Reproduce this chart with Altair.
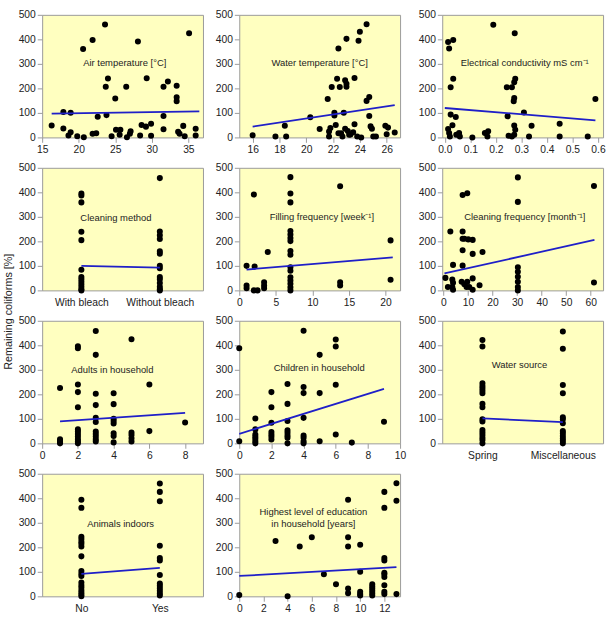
import altair as alt
import pandas as pd

FONT = "Liberation Sans"

# ---------------- data ----------------
air_x = [16.3, 17.9, 18.9, 17.9, 18.9, 18.6, 19.8, 20.7, 20.6, 21.9, 21.9, 22.4, 22.6, 23.6, 24.0, 23.7,
         23.8, 24.5, 25.0, 25.1, 25.7, 25.6, 26.5, 26.6, 27.0, 27.1, 28.1, 28.4, 28.6, 29.2, 29.3, 29.9,
         29.9, 31.6, 31.6, 31.6, 32.2, 33.4, 33.4, 33.4, 33.6, 33.8, 34.3, 34.5, 35.1, 36.0, 36.0]
air_y = [49, 104, 101, 36, 21, 8, 5, 1, 361, 397, 15, 17, 84, 461, 240, 207,
         91, 5, 159, 31, 31, 11, 207, 1, 15, 25, 391, 8, 51, 44, 241, 56,
         7, 207, 87, 33, 228, 211, 164, 148, 23, 15, 47, 5, 425, 35, 8]
air_line_x = [16.3, 36.5]
air_line_y = [97, 106]

wt_x = [16.0, 17.7, 18.4, 18.5, 20.3, 21.0, 21.6, 21.9, 21.7, 21.8, 21.7, 22.1, 22.1, 22.2, 22.3, 22.4,
        22.5, 22.4, 22.6, 22.7, 22.8, 22.9, 23.0, 23.0, 23.0, 22.9, 23.1, 23.2, 23.3, 23.5, 23.6, 23.6,
        23.8, 23.9, 24.0, 24.1, 24.5, 24.5, 24.7, 24.7, 24.8, 24.9, 25.0, 25.2, 25.9, 26.0, 26.1, 26.6]
wt_y = [9, 4, 48, 4, 82, 34, 157, 206, 24, 38, 4, 101, 89, 51, 239, 363,
        206, 17, 17, 4, 101, 233, 219, 207, 402, 35, 26, 11, 12, 21, 242, 54,
        4, 394, 431, 0, 462, 149, 165, 87, 45, 35, 4, 4, 48, 13, 40, 20]
wt_line_x = [16.0, 26.6]
wt_line_y = [44, 132]

ec_x = [0.013, 0.017, 0.033, 0.033, 0.023, 0.023, 0.03, 0.013, 0.017, 0.02, 0.043, 0.045, 0.056,
        0.059, 0.108, 0.157, 0.17, 0.167, 0.19, 0.243, 0.246, 0.25, 0.263, 0.272, 0.276, 0.272,
        0.270, 0.274, 0.272, 0.276, 0.272, 0.263, 0.31, 0.34, 0.33, 0.45, 0.45, 0.56, 0.59]
ec_y = [389, 363, 397, 239, 205, 93, 50, 34, 18, 4, 83, 11, 18,
        4, 0, 18, 25, 4, 460, 205, 86, 7, 205, 225, 239, 161,
        148, 425, 49, 31, 11, 4, 102, 48, 4, 56, 4, 4, 157]
ec_line_x = [0.0, 0.59]
ec_line_y = [120, 70]

method_cats = ["With bleach", "Without bleach"]
bleach_y = [395, 387, 359, 239, 205, 84, 55, 45, 35, 25, 15, 5, 0]
nobleach_y = [458, 240, 225, 210, 160, 150, 100, 90, 55, 45, 30, 15, 5, 0]
method_line_y = [100, 93]

fill_x = [1, 2.1, 1, 1, 2, 2, 2.5, 3.4, 3.4, 3.4, 3.9,
          7, 7, 7, 7, 7, 7, 7, 7, 7, 7, 7, 7, 7, 7, 7, 7,
          13.8, 13.8, 13.8, 20.7, 20.7]
fill_y = [100, 97, 20, 9, 391, 0, 0, 33, 20, 9, 157,
          462, 395, 359, 242, 228, 214, 201, 161, 145, 94, 80, 54, 40, 27, 13, 0,
          425, 33, 20, 204, 43]
fill_line_x = [1, 21]
fill_line_y = [85, 135]

cf_x = [0.8, 1.8, 2.8, 3.9, 3.6, 3.9, 3.6, 3.9, 7.8, 9.7, 7.8, 7.8, 7.8, 7.8, 8.5, 10.1, 11.9, 11.9,
        7.4, 8.5, 9.7, 9.4, 10.5, 11.9, 11.9, 14.7, 15.9,
        30.3, 30.3, 30.3, 30.3, 30.3, 30.3, 30.3, 30.3, 61.3, 61.3]
cf_y = [51, 14, 240, 104, 44, 31, 14, 3, 389, 396, 240, 211, 164, 101, 211, 208, 206, 149,
        35, 25, 35, 14, 14, 49, 3, 21, 157,
        461, 361, 94, 76, 56, 35, 14, 0, 426, 32]
cf_line_x = [0.4, 61.5]
cf_line_y = [69, 206]

ad_x = [1, 1, 1, 1, 1,
        2, 2, 2, 2, 2, 2, 2, 2, 2, 2, 2, 2,
        3, 3, 3, 3, 3, 3, 3, 3, 3, 3, 3,
        4, 4, 4, 4, 4, 4, 4, 4,
        5, 5, 5, 5, 5,
        6, 6, 8]
ad_y = [226, 17, 10, 5, 0,
        396, 388, 240, 209, 147, 57, 48, 38, 28, 17, 8, 0,
        458, 361, 202, 156, 104, 87, 48, 38, 28, 17, 8,
        204, 160, 100, 91, 81, 41, 30, 4,
        425, 44, 34, 21, 8,
        240, 50, 85]
ad_line_x = [1, 8]
ad_line_y = [90, 124]

ch_x = [0, 0,
        1, 1, 1, 1, 1, 1, 1,
        2, 2, 2, 2, 2, 2, 2,
        3, 3, 3, 3, 3, 3, 3, 3,
        4, 4, 4, 4, 4, 4, 4, 4,
        5, 5, 5,
        6, 6, 6, 6,
        7, 9]
ch_y = [388, 9,
        101, 57, 36, 27, 19, 9, 0,
        209, 147, 84, 46, 36, 27, 16,
        242, 161, 91, 53, 43, 32, 23, 0,
        459, 230, 205, 104, 32, 23, 9, 0,
        361, 205, 9,
        424, 395, 239, 36,
        3, 88]
ch_line_x = [0, 9]
ch_line_y = [39, 222]

source_cats = ["Spring", "Miscellaneous"]
spring_y = [422, 395, 245, 234, 225, 215, 204, 161, 147, 98, 89, 54, 44, 34, 23, 14, 0]
misc_y = [456, 386, 238, 204, 106, 98, 82, 50, 41, 30, 20, 11, 0]
source_line_y = [102, 87]

animal_cats = ["No", "Yes"]
no_y = [394, 361, 243, 234, 223, 214, 203, 163, 103, 92, 83, 56, 45, 36, 25, 16, 7, 0]
yes_y = [460, 426, 388, 206, 156, 146, 87, 52, 43, 33, 23, 12, 3]
animal_line_y = [92, 116]

ed_x = [0, 3, 4, 5, 6, 7, 8,
        9, 9, 9, 9, 9,
        10, 10, 10, 10, 10,
        11, 11, 11, 11, 11, 11,
        12, 12, 12, 12, 12, 12, 12, 12, 12, 12,
        13, 13, 13]
ed_y = [5, 226, 0, 203, 241, 90, 49,
        394, 241, 203, 32, 13,
        210, 100, 19, 9, 3,
        49, 40, 32, 23, 13, 3,
        426, 361, 156, 146, 96, 90, 79, 45, 19, 9,
        461, 390, 9]
ed_line_x = [0, 13]
ed_line_y = [83, 119]

y_ticks = [0, 100, 200, 300, 400, 500]

# panel labels and where they sit (in each panel's own data units)
titles = [
    ["Air  temperature [°C]"],
    ["Water  temperature [°C]"],
    ["Electrical  conductivity mS cm⁻¹"],
    ["Cleaning method"],
    ["Filling   frequency [week⁻¹]"],
    ["Cleaning  frequency [month⁻¹]"],
    ["Adults in  household"],
    ["Children in  household"],
    ["Water  source"],
    ["Animals indoors"],
    ["Highest level of education", "in household [years]"],
]
title_x = [26.3, 21.0, 0.313, 1.44, 11.3, 33.1, 3.93, 4.97, 1.46, 1.5, 6.13]
title_y = [[304], [304], [304], [296], [300], [300], [300], [308], [320], [296], [344, 296]]

W, H = 164, 125
DOT = "black"
LINE = "#1f1fc8"


def cat_points(cats, groups):
    xs, ys = [], []
    for i, g in enumerate(groups):
        for v in g:
            xs.append(i + 1)
            ys.append(v)
    return xs, ys


def panel(idx, xs, ys, lx, ly, xdom, xticks, fmt=None, cats=None):
    pts = pd.DataFrame({"x": xs, "y": ys})
    ln = pd.DataFrame({"x": lx, "y": ly})
    tx = pd.DataFrame({"x": [title_x[idx]] * len(titles[idx]),
                       "y": title_y[idx], "t": titles[idx]})
    axis_kw = dict(values=xticks, tickCount=len(xticks), title=None,
                   labelOverlap=False, labelFlush=False)
    if fmt:
        axis_kw["format"] = fmt
    if cats:
        expr = "datum.value == 1 ? '%s' : '%s'" % (cats[0], cats[1])
        axis_kw.update(labelExpr=expr, ticks=False, labelPadding=7)
    xenc = alt.X("x:Q", scale=alt.Scale(domain=xdom, nice=False, zero=False),
                 axis=alt.Axis(**axis_kw))
    yenc = alt.Y("y:Q", scale=alt.Scale(domain=[0, 500], nice=False),
                 axis=alt.Axis(values=y_ticks, tickCount=len(y_ticks), title=None,
                               labelOverlap=False, labelFlush=False))
    p = alt.Chart(pts).mark_circle(size=38, color=DOT, opacity=1).encode(x=xenc, y=yenc)
    l = alt.Chart(ln).mark_line(color=LINE, strokeWidth=1.8).encode(x="x:Q", y="y:Q")
    t = alt.Chart(tx).mark_text(font=FONT, fontSize=9.6, color="#222222").encode(
        x="x:Q", y="y:Q", text="t:N")
    return alt.layer(p, l, t).properties(width=W, height=H)


m_x, m_y = cat_points(method_cats, [bleach_y, nobleach_y])
s_x, s_y = cat_points(source_cats, [spring_y, misc_y])
a_x, a_y = cat_points(animal_cats, [no_y, yes_y])

charts = [
    panel(0, air_x, air_y, air_line_x, air_line_y, [15, 37], [15, 20, 25, 30, 35]),
    panel(1, wt_x, wt_y, wt_line_x, wt_line_y, [15, 27], [16, 18, 20, 22, 24, 26]),
    panel(2, ec_x, ec_y, ec_line_x, ec_line_y, [-0.01, 0.62],
          [0, 0.1, 0.2, 0.3, 0.4, 0.5, 0.6], fmt=".1f"),
    panel(3, m_x, m_y, [1, 2], method_line_y, [0.5, 2.55], [1, 2], cats=method_cats),
    panel(4, fill_x, fill_y, fill_line_x, fill_line_y, [0, 22], [0, 5, 10, 15, 20]),
    panel(5, cf_x, cf_y, cf_line_x, cf_line_y, [-0.5, 65], [0, 10, 20, 30, 40, 50, 60]),
    panel(6, ad_x, ad_y, ad_line_x, ad_line_y, [0, 9], [0, 2, 4, 6, 8]),
    panel(7, ch_x, ch_y, ch_line_x, ch_line_y, [0, 10], [0, 2, 4, 6, 8, 10]),
    panel(8, s_x, s_y, [1, 2], source_line_y, [0.5, 2.5], [1, 2], cats=source_cats),
    panel(9, a_x, a_y, [1, 2], animal_line_y, [0.5, 2.55], [1, 2], cats=animal_cats),
    panel(10, ed_x, ed_y, ed_line_x, ed_line_y, [0, 13.3], [0, 2, 4, 6, 8, 10, 12]),
]

chart = alt.concat(*charts, columns=3, spacing={"row": 7, "column": 10}).properties(
    title=alt.TitleParams("Remaining coliforms [%]", orient="left", anchor="middle",
                          font=FONT, fontSize=11, fontWeight="normal", color="#222222",
                          offset=4),
    padding={"left": 2, "top": 3, "right": 0, "bottom": 0},
    background="white",
).configure_view(
    fill="#FFFFC0", stroke="#9a9a9a", strokeWidth=1
).configure_axis(
    domain=False, grid=False, tickColor="#9a9a9a", tickSize=5, labelPadding=2,
    labelFont=FONT, labelFontSize=10.5, labelColor="#222222", labelOverlap=False
)

chart.save("out.html", embed_options={"renderer": "svg", "actions": False})
